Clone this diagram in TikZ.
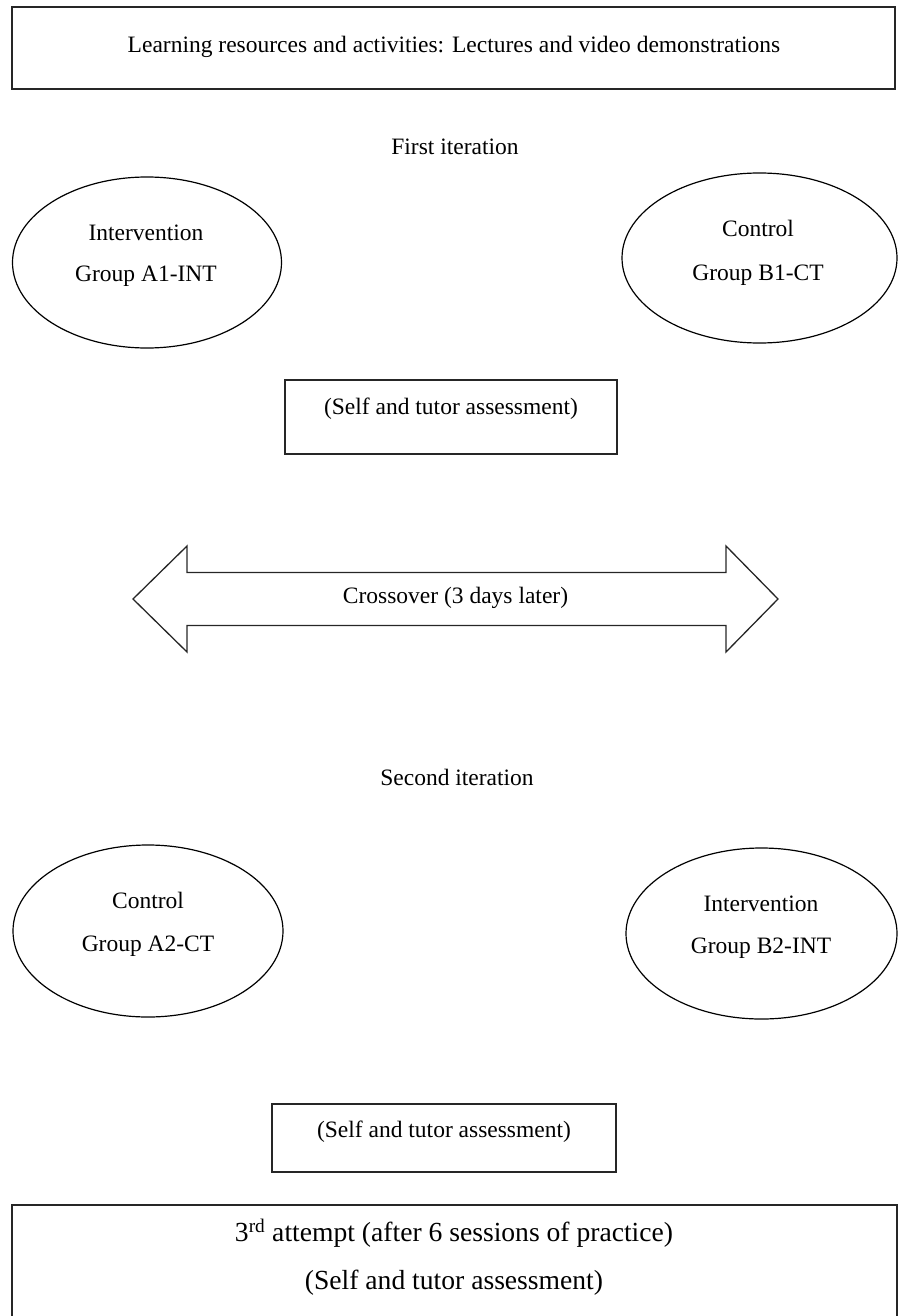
\documentclass[tikz,border=0pt]{standalone}
\usepackage{fontspec}
\setmainfont{Liberation Serif}
\usetikzlibrary{calc,shapes.geometric}

\begin{document}
\begin{tikzpicture}[x=1pt,y=-1pt]
                      \tikzstyle{box}=[rectangle,draw=black!85,line width=1.6pt,inner sep=0pt]
                      \tikzstyle{group}=[ellipse,draw=black,line width=1.2pt,inner sep=0pt]
                      \tikzstyle{txt}=[inner sep=0pt,font=\fontsize{23.5}{28}\selectfont]
                      \tikzstyle{bigtxt}=[inner sep=0pt,font=\fontsize{27.6}{33}\selectfont]
                      \useasboundingbox (0,0) rectangle (899,1316);
                      % resources
                      \node[box,minimum width=883,minimum height=82] (res) at (453.5,48) {};
                      \node[txt] (rest) at (454,47) {Learning resources and activities: Lectures and video demonstrations};
                      % first iteration
                      \node[txt] (it1) at (455,147) {First iteration};
                      \node[group,minimum width=269,minimum height=171] (a1) at (147,262.5) {};
                      \node[txt] (a1t) at (146,233) {Intervention};
                      \node[txt] (a1g) at (146,276) {Group A1-INT};
                      \node[group,minimum width=275,minimum height=170] (b1) at (759.5,258) {};
                      \node[txt] (b1t) at (758,228) {Control};
                      \node[txt] (b1g) at (758,275) {Group B1-CT};
                      \node[box,minimum width=332,minimum height=74] (s1) at (451,417) {};
                      \node[txt] (s1t) at (451,409) {(Self and tutor assessment)};
                      % crossover
                      \draw[line width=1.3pt,draw=black!85,line join=miter] (133,599) -- (187,546) -- (187,572.5) -- (726,572.5) -- (726,546) -- (778,599) -- (726,652) -- (726,625.5) -- (187,625.5) -- (187,652) -- cycle;
                      \node[txt] (cross) at (455.5,598) {Crossover (3 days later)};
                      % second iteration
                      \node[txt] (it2) at (457,777) {Second iteration};
                      \node[group,minimum width=270,minimum height=172] (a2) at (148,931) {};
                      \node[txt] (a2t) at (148,900) {Control};
                      \node[txt] (a2g) at (148,946) {Group A2-CT};
                      \node[group,minimum width=271,minimum height=171] (b2) at (761.5,933.5) {};
                      \node[txt] (b2t) at (761,904) {Intervention};
                      \node[txt] (b2g) at (761,948) {Group B2-INT};
                      \node[box,minimum width=344,minimum height=68] (s2) at (444,1138) {};
                      \node[txt] (s2t) at (444,1132) {(Self and tutor assessment)};
                      % third attempt
                      \node[box,minimum width=885,minimum height=135] (att) at (454.5,1272.5) {};
                      \node[bigtxt] (att1) at (454,1233) {3\textsuperscript{rd} attempt (after 6 sessions of practice)};
                      \node[bigtxt] (att2) at (454,1283) {(Self and tutor assessment)};
                  \end{tikzpicture}
\end{document}
